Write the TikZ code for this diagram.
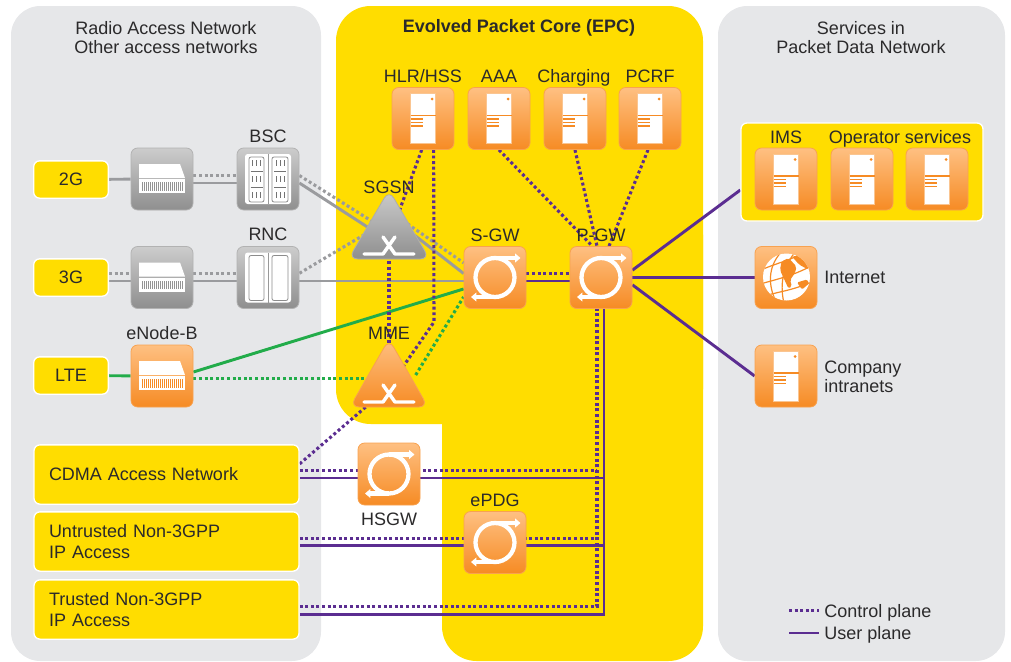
\documentclass[tikz,border=0pt]{standalone}
\usepackage{fontspec}
\setmainfont{Liberation Sans}
\usetikzlibrary{arrows.meta, backgrounds}

\definecolor{panelgray}{HTML}{E6E7E9}
\definecolor{epcyellow}{HTML}{FFDD00}
\definecolor{planepurple}{HTML}{5B2D91}
\definecolor{linegray}{HTML}{9A9B9E}
\definecolor{linegreen}{HTML}{22AC4A}
\definecolor{tileorange}{HTML}{F68B24}
\definecolor{inkgray}{HTML}{2B2A2B}

\tikzset{
  every node/.style={font=\fontsize{13.5}{15.8}\selectfont, text=inkgray, inner sep=0pt},
  orangefill/.style={top color=orange!45!white!90!tileorange, middle color=tileorange!90!white, bottom color=tileorange},
  grayfill/.style={top color=black!20, middle color=black!38, bottom color=black!44},
  tile/.style={minimum size=46.5pt, rounded corners=5pt, draw=tileorange!80!white, line width=.6pt, orangefill},
  graytile/.style={tile, draw=black!30, grayfill},
  yellowbox/.style={fill=epcyellow, draw=white, line width=1pt, rounded corners=4.5pt},
  accessbox/.style={yellowbox, minimum width=56pt, minimum height=28pt},
  longbox/.style={yellowbox, minimum width=198.75pt, minimum height=44.5pt, text width=176.25pt, align=left},
  ctrl/.style={draw=planepurple, line width=2.3pt, dash pattern=on 2.2pt off 2pt},
  userp/.style={draw=planepurple, line width=2.2pt},
  grayctrl/.style={ctrl, draw=linegray},
  grayuser/.style={userp, draw=linegray},
  greenctrl/.style={ctrl, draw=linegreen},
  greenuser/.style={userp, draw=linegreen},
  iconline/.style={draw=white, line width=3.2pt},
}

% white door server, centred on a tile
\newcommand{\servericon}[1]{
\begin{scope}[shift={(#1)}]
\fill[white, draw=tileorange!50!white, line width=.5pt] (-12.5,-25) rectangle (12.5,25);
\draw[tileorange, line width=.8pt] (-12.5,-3) -- (12.5,-3);
\draw[tileorange, line width=.9pt] (-12.5,.5) -- (0,.5) (-12.5,4) -- (0,4) (-12.5,7.5) -- (0,7.5);
\fill[tileorange] (9,-19.5) circle (1.5);
\end{scope}}

% circle with two arrows
\newcommand{\cycleicon}[1]{
\begin{scope}[shift={(#1)}]
\draw[iconline] (0,0) circle (19.5);
\draw[iconline, -{Triangle[length=4pt,width=6.5pt]}] (0,-19.5) -- (25.5,-19.5);
\draw[iconline, -{Triangle[length=4pt,width=6.5pt]}] (0,19.5) -- (-24,19.5);
\end{scope}}

% radio unit, #2 is the colour of its front stripes
\newcommand{\unit}[2]{
\begin{scope}[shift={(#1)}]
\fill[white] (-23,-15) -- (18,-15) -- (23,-1) -- (-23,-1) -- cycle;
\fill[white] (-23,0) rectangle (23,14);
\draw[#2, line width=6.5pt, dash pattern=on .75pt off .75pt] (-20,7.5) -- (21,7.5);
\end{scope}}

% two way crossing, on a triangle
\newcommand{\crossicon}[1]{
\begin{scope}[shift={(#1)}]
\draw[white, line width=2.6pt, line cap=round, line join=round] (-25,15) -- (-6,15) -- (6,-2);
\draw[white, line width=2.6pt, line cap=round, line join=round] (-6,-2) -- (6,15) -- (25,15);
\end{scope}}

\newcommand{\panels}[1]{
\begin{scope}[shift={(#1)}]
\fill[white, rounded corners=2pt] (-23,-25) rectangle (23,25);
\draw[black!40, line width=.6pt] (0,-25) -- (0,25);
\draw[black!45, fill=white, rounded corners=1.5pt, line width=.6pt] (-19,-22) rectangle (-4,23);
\draw[black!45, fill=white, rounded corners=1.5pt, line width=.6pt] (4,-22) rectangle (20,23);
\end{scope}}

\newcommand{\rackicon}[1]{
\panels{#1}
\begin{scope}[shift={(#1)}]
\foreach \px in {-11.5,12}{
  \draw[black!55, line width=.7pt] (\px-6,-8) -- (\px+6,-8) (\px-6,8) -- (\px+6,8);
  \foreach \py in {-16,0,16}{
    \draw[black!55, line width=.6pt] (\px-4,\py-3) -- (\px-4,\py+3) (\px,\py-3) -- (\px,\py+3) (\px+4,\py-3) -- (\px+4,\py+3);
  }
}
\end{scope}}

\newcommand{\globeicon}[1]{
\begin{scope}[shift={(#1)}]
\fill[white] (.5,-.5) circle (23.5);
\begin{scope}
\clip (.5,-.5) circle (23.5);
\draw[tileorange, line width=.9pt] (-24,-8) .. controls (-10,-14) and (0,-16) .. (12,-22);
\draw[tileorange, line width=.9pt] (-24,6) .. controls (-10,2) and (8,-2) .. (26,-12);
\draw[tileorange, line width=.9pt] (-20,18) .. controls (-6,14) and (10,12) .. (26,4);
\draw[tileorange, line width=.9pt] (-6,-24) .. controls (-18,-10) and (-18,8) .. (-10,24);
\draw[tileorange, line width=.9pt] (8,-24) .. controls (-4,-8) and (-6,8) .. (-2,26);
\fill[tileorange, rounded corners=1.5pt] (-4.5,-16) -- (2.5,-19.5) -- (10.5,-11) -- (9,-4.5) -- (4,2.5) -- (6,9) -- (2.5,11) -- (-1.5,2.5) -- (-6,-7.5) -- cycle;
\fill[tileorange, rounded corners=1.5pt] (6,-21) -- (14,-22) -- (24,-12) -- (22,-8) -- (13,-13) -- cycle;
\fill[tileorange, rounded corners=1pt] (11,5) -- (21,2) -- (23,6) -- (16,12) -- cycle;
\end{scope}
\end{scope}}

\begin{document}
\begin{tikzpicture}[x=.75pt, y=-.75pt]
\useasboundingbox (0,0) rectangle (1011,661);

% access side
\node[accessbox] (acc2g) at (71,179.5) {2G};
\node[accessbox] (acc3g) at (71,277.5) {3G};
\node[accessbox] (acclte) at (71,375.5) {LTE};
\node[graytile] (unit2g) at (162,179) {};
\node[graytile] (unit3g) at (162,277.5) {};
\node[tile] (enb) at (162,376) {};
\node[graytile] (bsc) at (268,179) {};
\node[graytile] (rnc) at (268,277.5) {};
\node[longbox] (cdma) at (166.5,474.5) {CDMA Access Network};
\node[longbox] (untrusted) at (166.5,541.5) {Untrusted Non-3GPP\\IP Access};
\node[longbox] (trusted) at (166.5,609.5) {Trusted Non-3GPP\\IP Access};

% core
\node[tile] (hlr) at (423,118.5) {};
\node[tile] (aaa) at (499,118.5) {};
\node[tile] (chg) at (575,118.5) {};
\node[tile] (pcrf) at (650,118.5) {};
\node[tile] (sgw) at (495,277.5) {};
\node[tile] (pgw) at (601,277.5) {};
\node[tile] (hsgw) at (389,474) {};
\node[tile] (epdg) at (495,542.5) {};
\coordinate (sgsn) at (389,239);
\coordinate (mme) at (389,387);
\path[grayfill, draw=black!32, line width=.6pt, rounded corners=7pt] (389,190) -- (429.5,259) -- (348.5,259) -- cycle;
\path[orangefill, draw=tileorange!80!white, line width=.6pt, rounded corners=7pt] (389,339) -- (428,407) -- (350,407) -- cycle;

% services
\node[yellowbox, minimum width=181.5pt, minimum height=73.5pt] (svcbox) at (862,172) {};
\node[tile] (ims) at (786,179) {};
\node[tile] (opa) at (862,179) {};
\node[tile] (opb) at (937,179) {};
\node[tile] (inet) at (786,277.5) {};
\node[tile] (corp) at (786,376) {};

\begin{scope}[on background layer]
\fill[panelgray, rounded corners=22pt] (11,6) rectangle (321,661);
\fill[panelgray, rounded corners=22pt] (718,6) rectangle (1005,661);
\fill[epcyellow, rounded corners=26pt] (336,6) rectangle (703,424);
\fill[epcyellow, rounded corners=26pt] (442,200) rectangle (703,661);

\coordinate (bscctl) at (389,232);
\coordinate (bscusr) at (389,241);
\coordinate (sgsnctl) at (389,211);
\coordinate (sgsnusr) at (395,220);
\coordinate (rncctl) at (389,220);
\coordinate (hssbend) at (434,322);
\coordinate (ctlspine) at ([xshift=-3pt]pgw.south);
\coordinate (usrspine) at ([xshift=2.25pt]pgw.south);

\draw[grayuser] (acc2g) -- (unit2g);
\draw[grayctrl] ([yshift=2.6pt]unit2g.east) -- ([yshift=2.6pt]bsc.west);
\draw[grayuser] ([yshift=-3pt]unit2g.east) -- ([yshift=-3pt]bsc.west);
\draw[grayctrl] ([yshift=3.2pt]acc3g.east) -- ([yshift=3.2pt]unit3g.west);
\draw[grayuser] ([yshift=-2.6pt]acc3g.east) -- ([yshift=-2.6pt]unit3g.west);
\draw[grayctrl] ([yshift=3.2pt]unit3g.east) -- ([yshift=3.2pt]rnc.west);
\draw[grayuser] ([yshift=-2.6pt]unit3g.east) -- ([yshift=-2.6pt]rnc.west);
\draw[grayctrl] ([yshift=2.6pt]bsc.east) -- (bscctl);
\draw[grayuser] ([yshift=-3pt]bsc.east) -- (bscusr);
\draw[grayctrl] (sgsnctl) -- ([yshift=11pt]sgw.west);
\draw[grayuser] (sgsnusr) -- ([yshift=3pt]sgw.west);
\draw[grayctrl] ([yshift=3.2pt]rnc.east) -- (rncctl);
\draw[grayuser] ([yshift=-2.6pt]rnc.east) -- ([yshift=-2.6pt]sgw.west);

\draw[greenuser] (acclte) -- (enb);
\draw[greenuser] ([yshift=3pt]enb.east) -- ([yshift=-8.6pt]sgw.west);
\draw[greenctrl] ([yshift=-2.2pt]enb.east) -- ([yshift=-2.2pt]enb.east -| mme);
\draw[greenctrl] ([xshift=20pt,yshift=9pt]mme) -- ([yshift=-14.6pt]sgw.west);

\draw[ctrl] ([xshift=-1pt]hlr.south) -- (sgsn);
\draw[ctrl] (sgsn) -- (mme);
\draw[ctrl] ([xshift=8pt]hlr.south) -- (hssbend) -- (mme);
\draw[ctrl] ([yshift=8pt]cdma.east) -- (mme);
\draw[ctrl] (aaa.south) -- ([xshift=-6.5pt]pgw.north);
\draw[ctrl] (chg.south) -- ([xshift=-3pt]pgw.north);
\draw[ctrl] ([xshift=-1.5pt]pcrf.south) -- ([xshift=6pt]pgw.north);
\draw[ctrl] ([yshift=3.2pt]sgw.east) -- ([yshift=3.2pt]pgw.west);
\draw[userp] ([yshift=-2.6pt]sgw.east) -- ([yshift=-2.6pt]pgw.west);
\draw[ctrl] ([yshift=3pt]cdma.east) -- ([yshift=3pt]cdma.east -| ctlspine);
\draw[userp] ([yshift=-2.6pt]cdma.east) -- ([yshift=-2.6pt]cdma.east -| usrspine);
\draw[ctrl] ([yshift=2.6pt]untrusted.east) -- ([yshift=2.6pt]untrusted.east -| ctlspine);
\draw[userp] ([yshift=-3pt]untrusted.east) -- ([yshift=-3pt]untrusted.east -| usrspine);
\draw[ctrl] ([yshift=2pt]trusted.east) -| (ctlspine);
\draw[userp] ([yshift=-3.4pt]trusted.east) -| (usrspine);

\draw[userp] ([yshift=5.5pt]pgw.east) -- ([yshift=-13.5pt]svcbox.west);
\draw[userp] (pgw.east) -- (inet.west);
\draw[userp] ([yshift=-5.5pt]pgw.east) -- (corp.west);
\end{scope}

% icons
\unit{unit2g}{black!42} \unit{unit3g}{black!42} \unit{enb}{tileorange}
\rackicon{bsc} \panels{rnc}
\servericon{hlr} \servericon{aaa} \servericon{chg} \servericon{pcrf}
\servericon{ims} \servericon{opa} \servericon{opb} \servericon{corp}
\cycleicon{sgw} \cycleicon{pgw} \cycleicon{hsgw} \cycleicon{epdg}
\crossicon{sgsn} \crossicon{mme}
\globeicon{inet}

% labels
\node (ranline) at (166,37.5) [align=center] {Radio Access Network\\[-1.5pt]Other access networks};
\node (epctitle) at (519,28) {\bfseries Evolved Packet Core (EPC)};
\node (pdnline) at (861,37.5) [align=center] {Services in\\[-1.5pt]Packet Data Network};
\node (bsclabel) at (268,136) {BSC};
\node (rnclabel) at (268,234) {RNC};
\node (enblabel) at (162,333) {eNode-B};
\node (hlrlabel) at (423,76) {HLR/HSS};
\node (aaalabel) at (499,76) {AAA};
\node (chglabel) [text depth=0pt] at (574,76) {Charging};
\node (pcrflabel) at (650,76) {PCRF};
\node (sgsnlabel) at (389,187) {SGSN};
\node (mmelabel) at (389,333) {MME};
\node (sgwlabel) at (495,235) {S-GW};
\node (pgwlabel) at (601,235) {P-GW};
\node (hsgwlabel) at (389,519) {HSGW};
\node (epdglabel) at (495,500) {ePDG};
\node (imslabel) at (786,137) {IMS};
\node (oplabel) [text depth=0pt] at (900,137) {Operator services};
\node (inetlabel) [anchor=west] at (824,277.5) {Internet};
\node (corplabel) [anchor=west, align=left] at (824,376.5) {Company\\[-1.5pt]intranets};

% legend
\coordinate (ctlleft) at (789,610.5);
\coordinate (usrleft) at (789,633);
\node (ctltext) [anchor=west, text depth=0pt] at (824,610.5) {Control plane};
\node (usrtext) [anchor=west, text depth=0pt] at (824,633) {User plane};
\draw[ctrl] (ctlleft) -- ([xshift=-3.5pt]ctltext.west);
\draw[userp] (usrleft) -- ([xshift=-3.5pt]usrtext.west);
\end{tikzpicture}
\end{document}
